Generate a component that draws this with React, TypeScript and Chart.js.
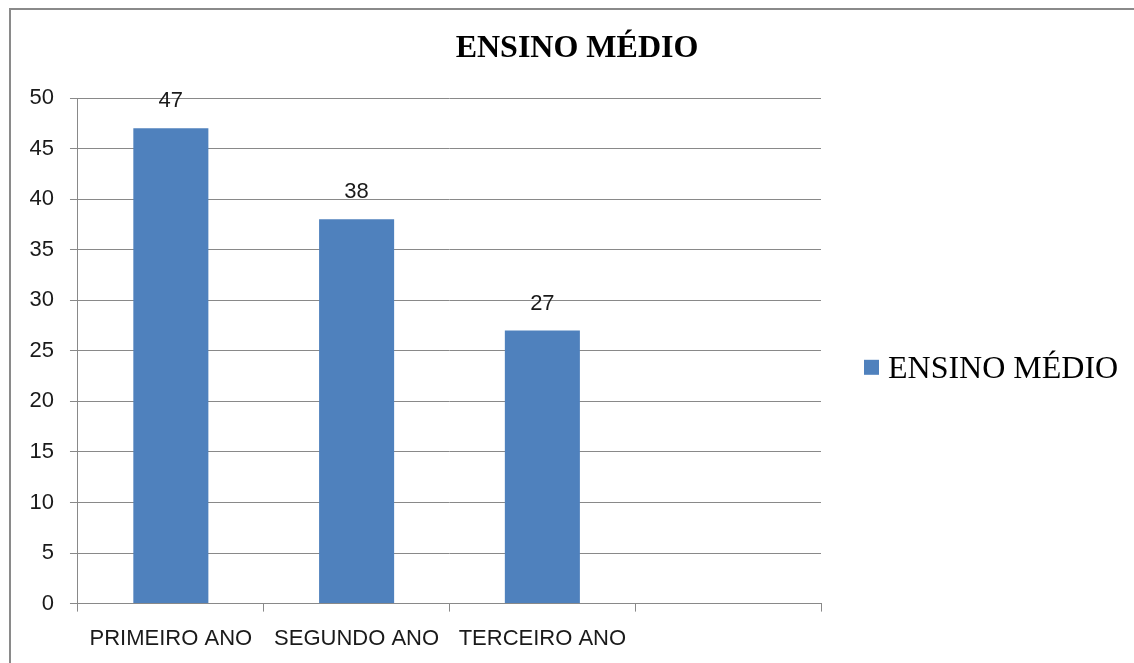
import React, { useEffect, useRef } from "react";
import { Chart, registerables } from "chart.js";

Chart.register(...registerables);

const categories = ["PRIMEIRO ANO", "SEGUNDO ANO", "TERCEIRO ANO", ""];
const seriesName = "ENSINO MÉDIO";
const seriesValues: (number | null)[] = [47, 38, 27, null];
const chartTitle = "ENSINO MÉDIO";
const yMin = 0;
const yMax = 50;
const yStep = 5;

const SANS = "'Liberation Sans', Arial, sans-serif";
const SERIF = "'Liberation Serif', 'Times New Roman', serif";
const GRID = "#898989";
const BAR = "#4F81BD";

const valueLabels = {
  id: "valueLabels",
  afterDatasetsDraw(chart: any) {
    const ctx = chart.ctx;
    const meta = chart.getDatasetMeta(0);
    const data = chart.data.datasets[0].data;
    ctx.save();
    ctx.font = `22px ${SANS}`;
    ctx.fillStyle = "#1a1a1a";
    ctx.textAlign = "center";
    ctx.textBaseline = "middle";
    meta.data.forEach((el: any, i: number) => {
      const v = data[i];
      if (v === null || v === undefined) return;
      ctx.fillText(String(v), el.x, el.y - 27);
    });
    ctx.restore();
  },
};

// Title and legend drawn on the canvas (the built-in legend caps its width
// at a quarter of the canvas, which would clip this long legend label).
const titleAndLegend = {
  id: "titleAndLegend",
  afterDraw(chart: any) {
    const ctx = chart.ctx;
    const area = chart.chartArea;
    ctx.save();
    // title
    ctx.font = `bold 32px ${SERIF}`;
    ctx.fillStyle = "#000";
    ctx.textAlign = "center";
    ctx.textBaseline = "alphabetic";
    ctx.fillText(chartTitle, 577, 57);
    // legend
    const ds = chart.data.datasets[0];
    const boxX = area.right + 43;
    const midY = (area.top + area.bottom) / 2 + 17;
    ctx.fillStyle = ds.backgroundColor;
    ctx.fillRect(boxX, midY - 8, 15, 15);
    ctx.font = `32px ${SERIF}`;
    ctx.fillStyle = "#000";
    ctx.textAlign = "left";
    ctx.fillText(ds.label, boxX + 24, midY + 10);
    ctx.restore();
  },
};

export default function App() {
  const ref = useRef<HTMLCanvasElement | null>(null);

  useEffect(() => {
    if (!ref.current) return;
    const chart = new Chart(ref.current, {
      type: "bar",
      data: {
        labels: categories,
        datasets: [
          {
            label: seriesName,
            data: seriesValues,
            backgroundColor: BAR,
            borderWidth: 0,
            barPercentage: 0.404,
            categoryPercentage: 1,
          },
        ],
      },
      options: {
        animation: false,
        responsive: false,
        layout: { padding: { left: 13.5, right: 313, top: 98, bottom: -3 } },
        plugins: {
          tooltip: { enabled: false },
          title: { display: false },
          legend: { display: false },
        },
        scales: {
          x: {
            offset: true,
            grid: {
              offset: true,
              drawOnChartArea: false,
              drawTicks: true,
              tickLength: 8,
              color: GRID,
            },
            border: { color: GRID, width: 1 },
            ticks: {
              color: "#1a1a1a",
              font: { family: SANS, size: 22 },
              padding: 14,
              maxRotation: 0,
              autoSkip: false,
            },
          },
          y: {
            min: yMin,
            max: yMax,
            grid: { color: GRID, tickLength: 8, drawTicks: true },
            border: { color: GRID, width: 1 },
            ticks: {
              stepSize: yStep,
              color: "#1a1a1a",
              font: { family: SANS, size: 22 },
              padding: 16,
            },
          },
        },
      },
      plugins: [valueLabels, titleAndLegend],
    });
    return () => chart.destroy();
  }, []);

  return (
    <div
      style={{
        position: "fixed",
        left: 0,
        top: 0,
        width: 1134,
        height: 663,
        overflow: "hidden",
        background: "#fff",
      }}
    >
      <div
        style={{
          position: "absolute",
          left: 9,
          top: 8,
          width: 1200,
          height: 700,
          border: "2px solid #8a8a8a",
          boxSizing: "border-box",
        }}
      />
      <canvas
        ref={ref}
        width={1134}
        height={663}
        style={{ position: "absolute", left: 0, top: 0, width: 1134, height: 663 }}
      />
    </div>
  );
}
